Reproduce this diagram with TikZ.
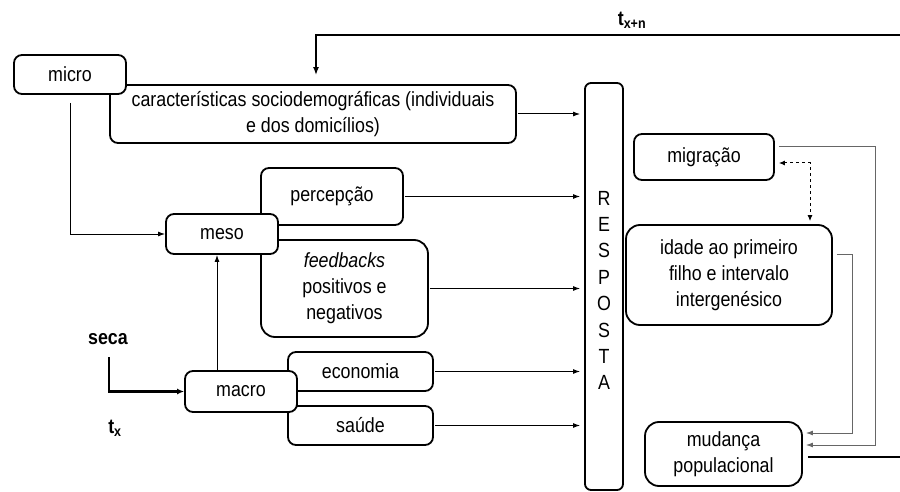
\documentclass[tikz,border=0pt]{standalone}
\usepackage{fontspec}
\setmainfont{Liberation Sans}[FakeStretch=0.87]
\usetikzlibrary{arrows.meta,calc}
\begin{document}
\begin{tikzpicture}[x=1pt,y=-1pt,
  box/.style={draw,line width=1.8pt,rounded corners=8pt,fill=white,inner sep=0pt,align=center,font=\fontsize{20.5}{26}\selectfont},
  bigbox/.style={box,rounded corners=14pt},
  conn/.style={line width=1pt,-{Latex[length=7pt,width=5pt]}},
  gconn/.style={conn,draw=black!60},
  heavy/.style={line width=2.4pt},
  lbl/.style={font=\bfseries\fontsize{20.5}{22}\selectfont,inner sep=0pt},
]
\useasboundingbox (0,0) rectangle (900,492);

% boxes drawn underneath
\node[box,minimum width=406pt,minimum height=58pt] (car) at (313,114) {características sociodemográficas (individuais\\e dos domicílios)};
\node[box,minimum width=142pt,minimum height=57pt] (perc) at (332,196.5) {percepção};
\node[bigbox,minimum width=167pt,minimum height=97pt] (feed) at (344.5,288.5) {{\itshape feedbacks}\\positivos e\\negativos};
\node[box,minimum width=145pt,minimum height=39pt] (econ) at (360.5,371.5) {economia};
\node[box,minimum width=145pt,minimum height=39pt] (saude) at (360.5,425.5) {saúde};

% level boxes on top
\node[box,minimum width=112pt,minimum height=39pt] (micro) at (70,74.5) {micro};
\node[box,minimum width=112pt,minimum height=40pt] (meso) at (222,234) {meso};
\node[box,minimum width=112pt,minimum height=41pt] (macro) at (241,391.5) {macro};

% response column
\node[box,rounded corners=6pt,minimum width=38pt,minimum height=407pt] (resp) at (604,286.5) {};
\node[align=center,inner sep=0pt,font=\fontsize{20.5}{26.4}\selectfont] (resptxt) at (604,290.5) {R\\E\\S\\P\\O\\S\\T\\A};

% right side
\node[box,minimum width=140pt,minimum height=46pt] (migr) at (704,157) {migração};
\node[bigbox,minimum width=206pt,minimum height=100pt] (idade) at (729,275) {idade ao primeiro\\filho e intervalo\\intergenésico};
\node[bigbox,minimum width=157pt,minimum height=64pt] (mud) at (723.5,454) {mudança\\populacional};

% labels
\node[lbl] (seca) at (108,339) {seca};
\node[lbl] (tx) at (115,428) {t\textsubscript{x}};
\node[lbl] (txn) at (632,20) {t\textsubscript{x+n}};

% connectors into RESPOSTA
\foreach \n in {car,perc,feed,econ,saude}{
  \draw[conn,shorten >=4pt,shorten <=1pt] (\n.east) -- (resp.west |- \n.east);
}

% micro -> meso, macro -> meso
\draw[conn] ([yshift=-8pt]micro.south) |- (meso.west);
\draw[conn] ([xshift=-24pt]macro.north) -- ([xshift=-24pt]macro.north |- meso.south);

% seca -> macro
\coordinate (sstart) at (109,357);
\draw[heavy,-{Latex[length=7pt,width=6pt]}] (sstart) |- (macro.west);

% right-side connectors
\coordinate (xr1) at (875,0);
\coordinate (xr2) at (852,0);
\coordinate (dx) at (810,0);
\draw[gconn] ([xshift=4pt,yshift=10pt]migr.east) -| ([yshift=9pt]mud.east -| xr1) -- ([xshift=3pt,yshift=9pt]mud.east);
\draw[gconn] ([xshift=4pt,yshift=21pt]idade.east) -| ([yshift=21pt]mud.east -| xr2) -- ([xshift=3pt,yshift=21pt]mud.east);
\draw[line width=1pt,dashed,{Latex[length=6pt,width=5pt]}-{Latex[length=6pt,width=5pt]}] ([xshift=4pt,yshift=-6pt]migr.east) -| ([yshift=3pt]idade.north -| dx);

% feedback loop
\coordinate (rb) at (900,457);
\coordinate (rt) at (900,35);
\coordinate (tl) at (316,35);
\draw[heavy] ([xshift=5pt,yshift=-3pt]mud.east) -- (rb);
\draw[heavy,-{Latex[length=8pt,width=6pt]}] (rt) -- (tl) -- ([yshift=9pt]car.north -| tl);
\end{tikzpicture}
\end{document}
